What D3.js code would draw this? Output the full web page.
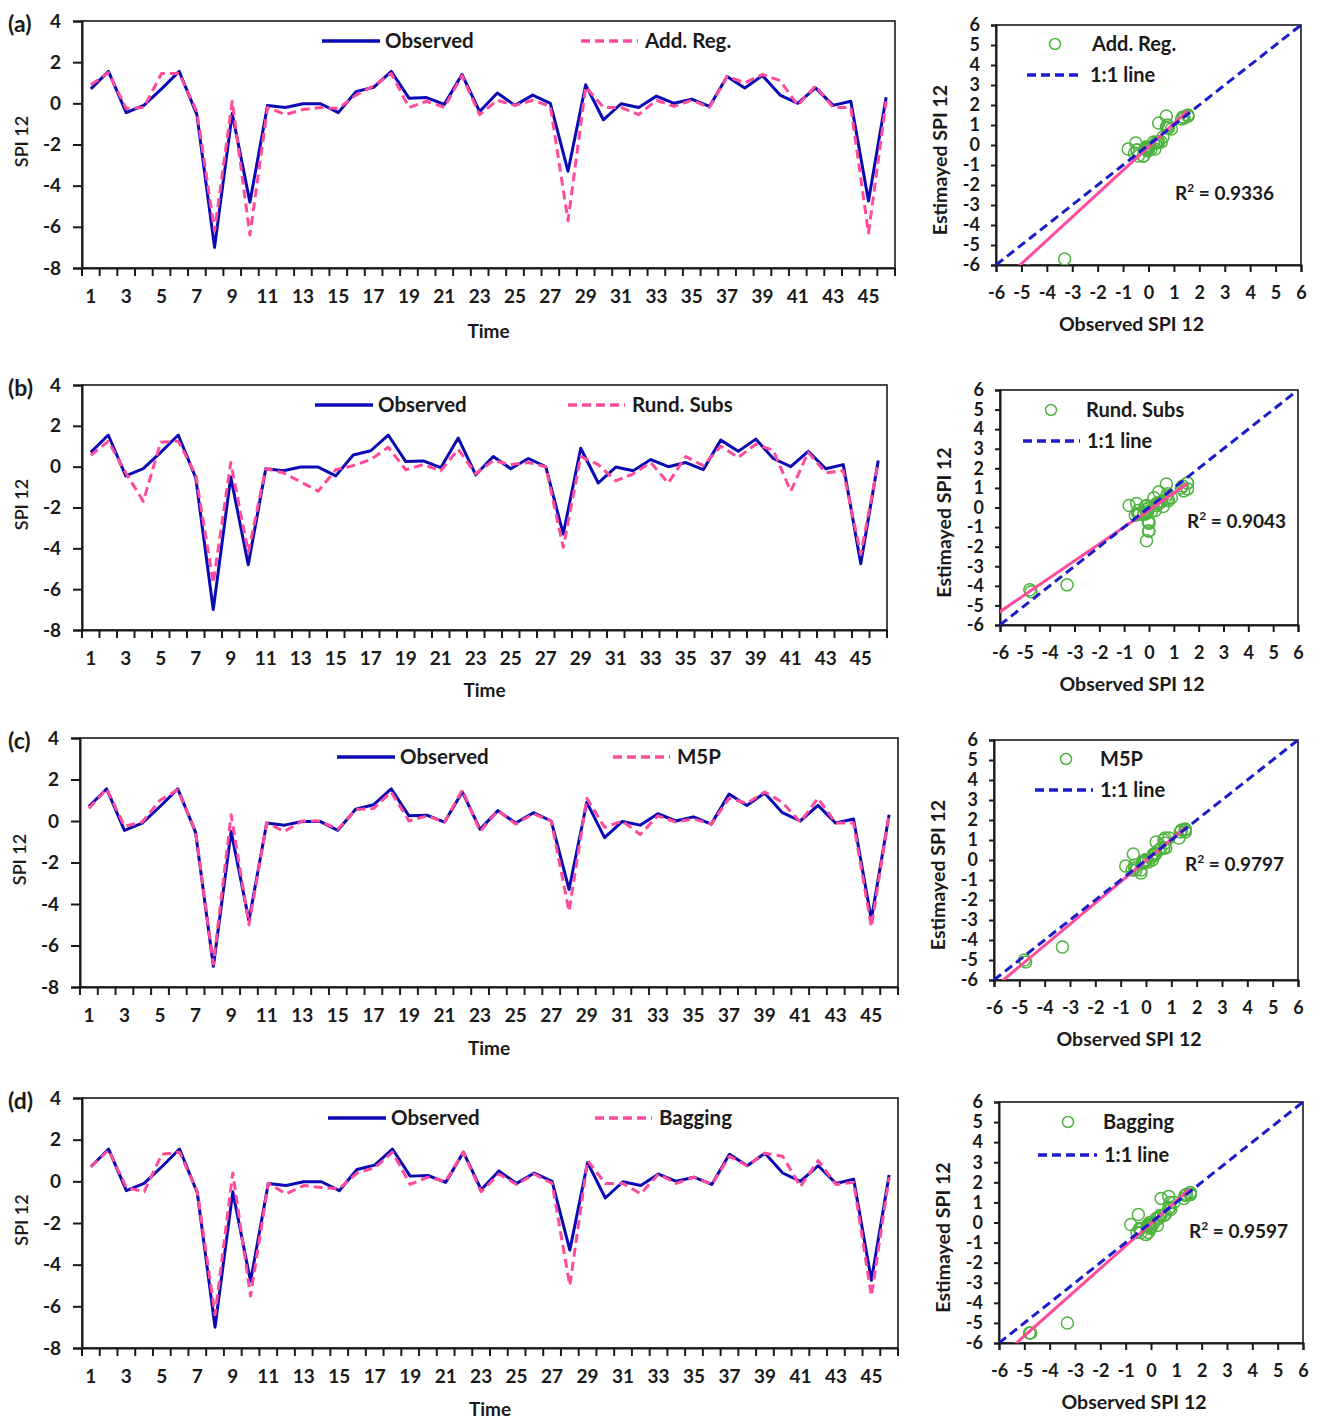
<!DOCTYPE html>
<html>
<head>
<meta charset="utf-8">
<script src="https://cdn.jsdelivr.net/npm/d3@7"></script>
<style>
  body { margin: 0; background: #fff; }
  svg { display: block; }
  text { font-family: Lato, "Open Sans", sans-serif; font-weight: 700; fill: #1a1a1a; }
</style>
</head>
<body>
<svg id="chart" width="1320" height="1419"></svg>
<script>
// ---------------- data ----------------
const timeSteps = d3.range(1, 47);

const observed = [0.7, 1.55, -0.45, -0.1, 0.7, 1.55, -0.55, -7.0, -0.5, -4.8,
  -0.1, -0.2, -0.02, -0.02, -0.45, 0.57, 0.78, 1.55, 0.25, 0.28,
  -0.05, 1.4, -0.4, 0.5, -0.1, 0.4, 0.0, -3.3, 0.9, -0.8,
  -0.02, -0.2, 0.35, 0.0, 0.2, -0.15, 1.3, 0.75, 1.35, 0.4,
  0.0, 0.75, -0.1, 0.1, -4.75, 0.3];

const addReg = [0.9, 1.5, -0.25, -0.2, 1.45, 1.45, -0.4, -6.2, 0.1, -6.4,
  -0.2, -0.55, -0.3, -0.2, -0.25, 0.4, 0.85, 1.45, -0.2, 0.1,
  -0.2, 1.35, -0.55, 0.15, -0.1, 0.15, -0.15, -5.7, 0.8, -0.2,
  -0.2, -0.55, 0.15, -0.15, 0.15, -0.2, 1.3, 1.0, 1.4, 1.1,
  -0.1, 0.85, -0.2, -0.2, -6.3, 0.1];

const rundSubs = [0.55, 1.25, -0.3, -1.7, 1.2, 1.25, -0.4, -5.7, 0.2, -4.2,
  -0.1, -0.3, -0.75, -1.2, -0.15, 0.05, 0.35, 0.95, -0.15, 0.1,
  -0.2, 0.85, -0.35, 0.3, 0.1, 0.2, 0.0, -3.95, 0.5, 0.1,
  -0.7, -0.35, 0.2, -0.8, 0.5, 0.05, 1.0, 0.45, 1.1, 0.8,
  -1.2, 0.7, -0.3, -0.2, -4.3, 0.2];

const m5p = [0.6, 1.55, -0.25, -0.05, 1.0, 1.5, -0.5, -6.9, 0.3, -5.0,
  -0.1, -0.5, 0.0, 0.0, -0.4, 0.55, 0.6, 1.4, 0.0, 0.25,
  -0.05, 1.5, -0.5, 0.5, -0.15, 0.35, 0.0, -4.35, 1.1, -0.3,
  0.0, -0.65, 0.25, -0.05, 0.1, -0.15, 1.1, 0.85, 1.4, 0.9,
  -0.05, 1.1, -0.1, -0.1, -5.1, 0.3];

const bagging = [0.7, 1.5, -0.3, -0.5, 1.3, 1.4, -0.5, -6.4, 0.4, -5.5,
  -0.1, -0.6, -0.2, -0.3, -0.35, 0.4, 0.65, 1.4, -0.15, 0.2,
  0.0, 1.4, -0.5, 0.35, -0.15, 0.35, -0.1, -5.0, 1.0, -0.1,
  -0.1, -0.6, 0.35, -0.1, 0.2, -0.15, 1.2, 0.75, 1.35, 1.2,
  -0.25, 1.0, -0.15, -0.05, -5.5, 0.2];

const modelSeries = [addReg, rundSubs, m5p, bagging];
const modelNames = ["Add. Reg.", "Rund. Subs", "M5P", "Bagging"];
const panelLetters = ["(a)", "(b)", "(c)", "(d)"];
const rSquared = ["0.9336", "0.9043", "0.9797", "0.9597"];
// linear trendline of estimated vs observed
const fitSlope = [1.17, 0.865, 1.06, 1.12];
const fitIntercept = [-0.09, -0.13, -0.03, -0.05];

const seriesTicks = [-8, -6, -4, -2, 0, 2, 4];
const seriesDomain = [-8, 4];
const scatterTicks = d3.range(-6, 7);
const scatterDomain = [-6, 6];

// ---------------- layout ----------------
const panels = [
  { ts: { l: 82, r: 895, t: 21, b: 268 }, sc: { l: 996, r: 1301, t: 25, b: 265 },
    leg: { obs: 322, mod: 581, y: 41 },
    scLeg: { cx: 1055, cy: 44, tx: 1092, l1: 1027, l2: 1083, ly: 75 },
    r2: { x: 1175, y: 200 }, timeY: 338 },
  { ts: { l: 82, r: 887, t: 385, b: 630 }, sc: { l: 1000, r: 1298, t: 390, b: 625 },
    leg: { obs: 315, mod: 568, y: 405 },
    scLeg: { cx: 1051, cy: 410, tx: 1086, l1: 1023, l2: 1080, ly: 441 },
    r2: { x: 1187, y: 528 }, timeY: 697 },
  { ts: { l: 80, r: 898, t: 738, b: 987 }, sc: { l: 994, r: 1298, t: 740, b: 980 },
    leg: { obs: 337, mod: 613, y: 757 },
    scLeg: { cx: 1066, cy: 759, tx: 1100, l1: 1035, l2: 1093, ly: 790 },
    r2: { x: 1185, y: 871 }, timeY: 1055 },
  { ts: { l: 82, r: 898, t: 1098, b: 1348 }, sc: { l: 999, r: 1303, t: 1102, b: 1343 },
    leg: { obs: 328, mod: 595, y: 1118 },
    scLeg: { cx: 1068, cy: 1122, tx: 1103, l1: 1038, l2: 1097, ly: 1155 },
    r2: { x: 1189, y: 1238 }, timeY: 1416 }
];

const BLUE = "#0a0ab4";
const PINK = "#ff4b9b";
const GREEN = "#4fb33f";
const DASH_BLUE = "#1c1ccc";
const INK = "#1a1a1a";

const svg = d3.select("#chart");
const defs = svg.append("defs");

function styleAxis(g, fontSize) {
  g.selectAll(".domain").attr("stroke", INK).attr("stroke-width", 2);
  g.selectAll(".tick line").attr("stroke", INK).attr("stroke-width", 2);
  g.selectAll(".tick text").style("font-size", fontSize + "px").attr("fill", INK);
}

function drawSeries(p, i) {
  const box = p.ts;
  const est = modelSeries[i];
  const g = svg.append("g");
  const x = d3.scaleBand().domain(timeSteps).range([box.l, box.r]).padding(0);
  const y = d3.scaleLinear().domain(seriesDomain).range([box.b, box.t]);
  const cx = t => x(t) + x.bandwidth() / 2;

  g.append("rect")
    .attr("x", box.l).attr("y", box.t)
    .attr("width", box.r - box.l).attr("height", box.b - box.t)
    .attr("fill", "none").attr("stroke", INK).attr("stroke-width", 1.6);

  const yAxis = g.append("g").attr("transform", `translate(${box.l},0)`)
    .call(d3.axisLeft(y).tickValues(seriesTicks).tickSize(9).tickPadding(12).tickFormat(d => String(d)));
  styleAxis(yAxis, 19);

  const xAxis = g.append("g").attr("transform", `translate(0,${box.b})`)
    .call(d3.axisBottom(x).tickValues(timeSteps.filter(t => t % 2 === 1)).tickSize(0).tickPadding(22));
  styleAxis(xAxis, 19);

  // category boundary ticks
  const bounds = timeSteps.map(t => x(t)).concat([box.r]);
  g.append("g").selectAll("line").data(bounds).join("line")
    .attr("x1", d => d).attr("x2", d => d)
    .attr("y1", box.b).attr("y2", box.b + 8)
    .attr("stroke", INK).attr("stroke-width", 2);

  const line = d3.line().x((d, k) => cx(timeSteps[k])).y(d => y(d));
  g.append("path").datum(observed).attr("d", line)
    .attr("fill", "none").attr("stroke", BLUE).attr("stroke-width", 3).attr("stroke-linejoin", "round");
  g.append("path").datum(est).attr("d", line)
    .attr("fill", "none").attr("stroke", PINK).attr("stroke-width", 3)
    .attr("stroke-dasharray", "9,5").attr("stroke-linejoin", "round");

  // legend
  const lg = p.leg;
  g.append("line").attr("x1", lg.obs).attr("x2", lg.obs + 58).attr("y1", lg.y).attr("y2", lg.y)
    .attr("stroke", BLUE).attr("stroke-width", 3.5);
  g.append("text").attr("x", lg.obs + 63).attr("y", lg.y).attr("dy", "0.35em")
    .style("font-size", "20.5px").text("Observed");
  g.append("line").attr("x1", lg.mod).attr("x2", lg.mod + 57).attr("y1", lg.y).attr("y2", lg.y)
    .attr("stroke", PINK).attr("stroke-width", 3.5).attr("stroke-dasharray", "9,5");
  g.append("text").attr("x", lg.mod + 64).attr("y", lg.y).attr("dy", "0.35em")
    .style("font-size", "20.5px").text(modelNames[i]);

  // titles
  g.append("text").attr("x", (box.l + box.r) / 2).attr("y", p.timeY)
    .attr("text-anchor", "middle").style("font-size", "19px").text("Time");
  g.append("text")
    .attr("transform", `translate(${box.l - 60},${(box.t + box.b) / 2 - 3}) rotate(-90)`)
    .attr("text-anchor", "middle").attr("dy", "0.35em")
    .style("font-size", "18px").style("font-weight", 600).text("SPI 12");
  g.append("text").attr("x", 8).attr("y", box.t + 3).attr("dy", "0.35em")
    .style("font-size", "23px").text(panelLetters[i]);
}

function drawScatter(p, i) {
  const box = p.sc;
  const est = modelSeries[i];
  const g = svg.append("g");
  const x = d3.scaleLinear().domain(scatterDomain).range([box.l, box.r]);
  const y = d3.scaleLinear().domain(scatterDomain).range([box.b, box.t]);

  const clipId = "clip" + i;
  defs.append("clipPath").attr("id", clipId).append("rect")
    .attr("x", box.l).attr("y", box.t).attr("width", box.r - box.l).attr("height", box.b - box.t);

  g.append("rect")
    .attr("x", box.l).attr("y", box.t)
    .attr("width", box.r - box.l).attr("height", box.b - box.t)
    .attr("fill", "none").attr("stroke", INK).attr("stroke-width", 1.6);

  const yAxis = g.append("g").attr("transform", `translate(${box.l},0)`)
    .call(d3.axisLeft(y).tickValues(scatterTicks).tickSize(5).tickPadding(11).tickFormat(d => String(d)));
  styleAxis(yAxis, 18);
  const xAxis = g.append("g").attr("transform", `translate(0,${box.b})`)
    .call(d3.axisBottom(x).tickValues(scatterTicks).tickSize(7).tickPadding(14).tickFormat(d => String(d)));
  styleAxis(xAxis, 18);

  const plot = g.append("g").attr("clip-path", `url(#${clipId})`);
  const pairs = d3.zip(observed, est);
  plot.selectAll("circle").data(pairs).join("circle")
    .attr("cx", d => x(d[0])).attr("cy", d => y(d[1])).attr("r", 6)
    .attr("fill", "none").attr("stroke", GREEN).attr("stroke-width", 1.5);

  const [xmin, xmax] = d3.extent(observed);
  plot.append("line")
    .attr("x1", x(xmin)).attr("y1", y(fitSlope[i] * xmin + fitIntercept[i]))
    .attr("x2", x(xmax)).attr("y2", y(fitSlope[i] * xmax + fitIntercept[i]))
    .attr("stroke", PINK).attr("stroke-width", 3);
  plot.append("line")
    .attr("x1", x(scatterDomain[0])).attr("y1", y(scatterDomain[0]))
    .attr("x2", x(scatterDomain[1])).attr("y2", y(scatterDomain[1]))
    .attr("stroke", DASH_BLUE).attr("stroke-width", 3).attr("stroke-dasharray", "9,5");

  // legend
  const lg = p.scLeg;
  g.append("circle").attr("cx", lg.cx).attr("cy", lg.cy).attr("r", 5.5)
    .attr("fill", "none").attr("stroke", GREEN).attr("stroke-width", 1.5);
  g.append("text").attr("x", lg.tx).attr("y", lg.cy).attr("dy", "0.35em")
    .style("font-size", "20px").text(modelNames[i]);
  g.append("line").attr("x1", lg.l1).attr("x2", lg.l2).attr("y1", lg.ly).attr("y2", lg.ly)
    .attr("stroke", DASH_BLUE).attr("stroke-width", 3.5).attr("stroke-dasharray", "9,5");
  g.append("text").attr("x", lg.l2 + 7).attr("y", lg.ly).attr("dy", "0.35em")
    .style("font-size", "20px").text("1:1 line");

  const r2 = g.append("text").attr("x", p.r2.x).attr("y", p.r2.y).style("font-size", "19px");
  r2.append("tspan").text("R");
  r2.append("tspan").attr("dy", "-8").style("font-size", "12px").text("2");
  r2.append("tspan").attr("dy", "8").text(" = " + rSquared[i]);

  g.append("text").attr("x", (box.l + box.r) / 2 - 17).attr("y", box.b + 66)
    .attr("text-anchor", "middle").style("font-size", "19.5px").text("Observed SPI 12");
  g.append("text")
    .attr("transform", `translate(${box.l - 56},${(box.t + box.b) / 2 + 15}) rotate(-90)`)
    .attr("text-anchor", "middle").attr("dy", "0.35em")
    .style("font-size", "19.5px").text("Estimayed SPI 12");
}

panels.forEach((p, i) => { drawSeries(p, i); drawScatter(p, i); });
</script>
</body>
</html>
